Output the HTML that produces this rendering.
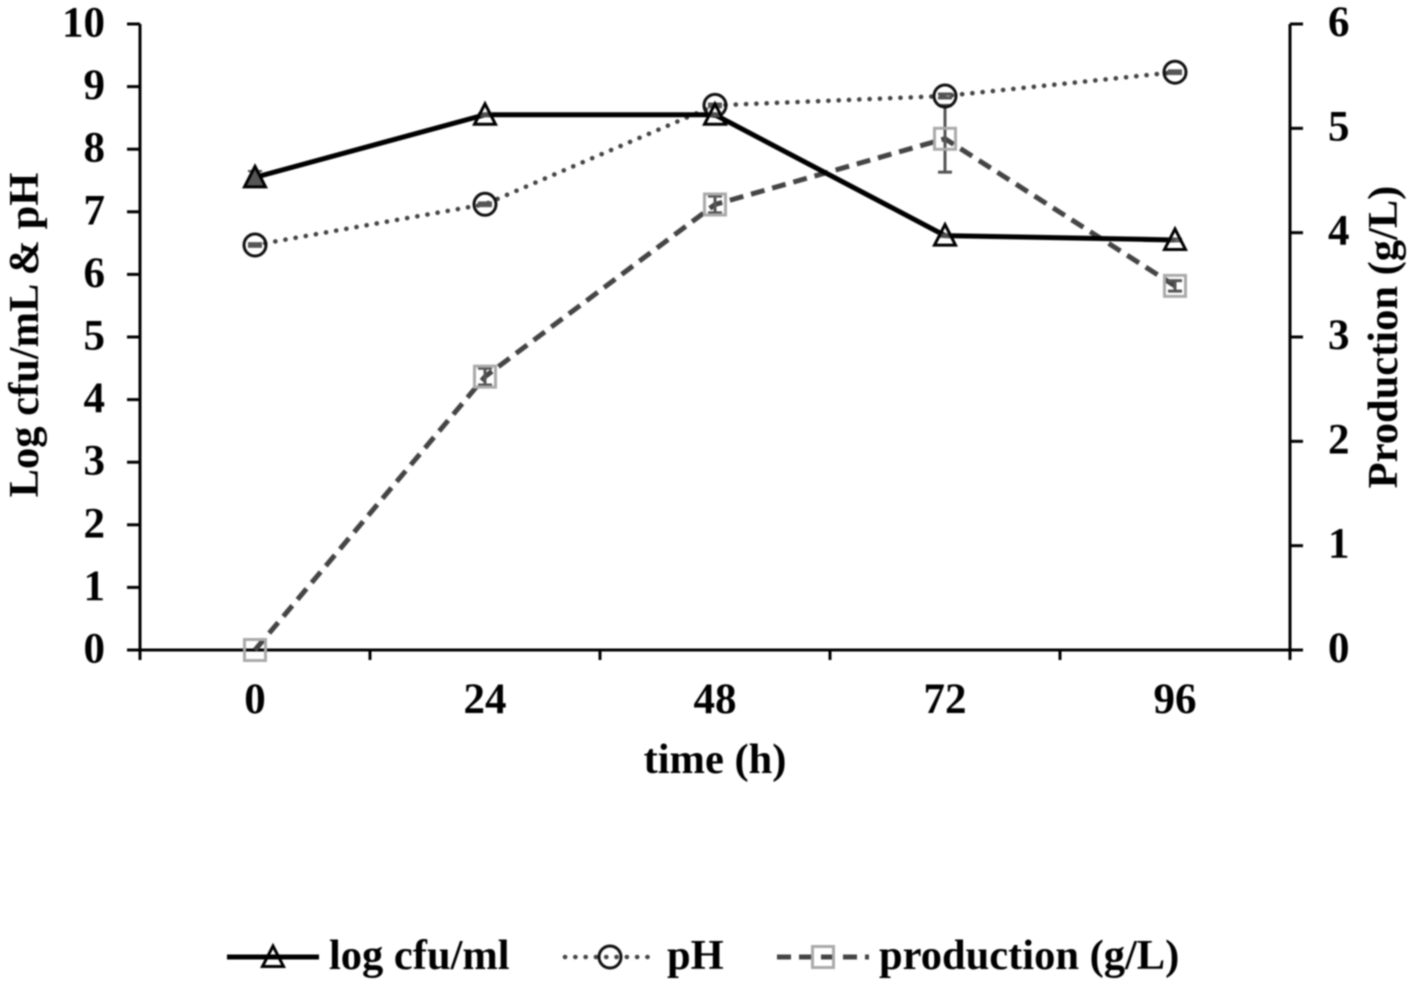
<!DOCTYPE html>
<html>
<head>
<meta charset="utf-8">
<title>Chart</title>
<style>
html,body{margin:0;padding:0;background:#fff;width:1417px;height:987px;overflow:hidden}
svg{display:block;filter:blur(0.7px)}
text{font-family:"Liberation Serif",serif;font-weight:bold;fill:#000}
</style>
</head>
<body>
<svg id="chart" width="1417" height="987" viewBox="0 0 1417 987" xmlns="http://www.w3.org/2000/svg"></svg>
<script>
const categories = ["0", "24", "48", "72", "96"];
const logCfu = [7.55, 8.55, 8.55, 6.62, 6.55];
const logCfuErr = [0.1, 0.02, 0.02, 0.02, 0.02];
const pH = [6.47, 7.12, 8.7, 8.85, 9.23];
const pHErr = [0.02, 0.02, 0.02, 0.03, 0.02];
const production = [0, 2.62, 4.27, 4.9, 3.49];
const productionErr = [0, 0.08, 0.08, 0.32, 0.05];
const leftTicks = [0, 1, 2, 3, 4, 5, 6, 7, 8, 9, 10];
const rightTicks = [0, 1, 2, 3, 4, 5, 6];

const svg = document.getElementById('chart');
const NS = 'http://www.w3.org/2000/svg';
const plotL = 140, plotR = 1290, plotT = 24, plotB = 650;
const xBand = (plotR - plotL) / categories.length;
function xPos(i) { return plotL + xBand * (i + 0.5); }
function yLeft(v) { return plotB - (v / 10) * (plotB - plotT); }
function yRight(v) { return plotB - (v / 6) * (plotB - plotT); }

function mk(tag, attrs, parent) {
  const el = document.createElementNS(NS, tag);
  for (const k in attrs) el.setAttribute(k, attrs[k]);
  (parent || svg).appendChild(el);
  return el;
}
function seg(x1, y1, x2, y2, stroke, w, parent) {
  return mk('line', {x1: x1, y1: y1, x2: x2, y2: y2, stroke: stroke, 'stroke-width': w}, parent);
}
function label(str, x, y, size, anchor, parent) {
  const t = mk('text', {x: x, y: y, 'font-size': size, 'text-anchor': anchor}, parent);
  t.textContent = str;
  return t;
}

/* axes */
const leftAxis = mk('g', {});


seg(plotL, plotT, plotL, plotB + 10, '#000', 3, leftAxis);
leftTicks.forEach(function (v) {
  seg(plotL - 13, yLeft(v), plotL, yLeft(v), '#000', 3, leftAxis);
  const t = label(String(v), 105, yLeft(v) + 12.5, 43, 'end', leftAxis);
  
  
});

const rightAxis = mk('g', {});


seg(plotR, plotT, plotR, plotB + 10, '#000', 3, rightAxis);
rightTicks.forEach(function (v) {
  seg(plotR, yRight(v), plotR + 13, yRight(v), '#000', 3, rightAxis);
  const t = label(String(v), 1328, yRight(v) + 12, 43, 'start', rightAxis);
  
  
});

const xAxis = mk('g', {});


seg(plotL - 13, plotB, plotR + 13, plotB, '#000', 3, xAxis);
for (let i = 1; i < categories.length; i++) {
  seg(plotL + xBand * i, plotB, plotL + xBand * i, plotB + 10, '#000', 3, xAxis);
}
categories.forEach(function (c, i) {
  const t = label(c, xPos(i), 713, 43, 'middle', xAxis);
  
  
});

/* axis titles */
const xTitle = label('time (h)', 715, 773, 42.5, 'middle');


const yTitleL = label('Log cfu/mL & pH', 0, 0, 42.5, 'middle');
yTitleL.setAttribute('transform', 'translate(38,335) rotate(-90)');


const yTitleR = label('Production (g/L)', 0, 0, 42.5, 'middle');
yTitleR.setAttribute('transform', 'translate(1397,337) rotate(-90)');



/* markers */
function triangle(x, y, fill, parent) {
  return mk('path', {d: 'M' + x + ' ' + (y - 11) + 'L' + (x + 10.5) + ' ' + (y + 9.5) + 'H' + (x - 10.5) + 'Z', fill: fill, stroke: '#000', 'stroke-width': 3}, parent);
}
function circle(x, y, parent) {
  return mk('circle', {cx: x, cy: y, r: 11, fill: 'none', stroke: '#111', 'stroke-width': 3}, parent);
}
function square(x, y, parent) {
  return mk('rect', {x: x - 10.5, y: y - 10.5, width: 21, height: 21, fill: 'none', stroke: '#aaa', 'stroke-width': 3}, parent);
}
function errorBar(x, y, dy, color, w, parent) {
  seg(x, y - dy, x, y + dy, color, w, parent);
  seg(x - 7, y - dy, x + 7, y - dy, color, w, parent);
  seg(x - 7, y + dy, x + 7, y + dy, color, w, parent);
}
function points(vals, scale) {
  return vals.map(function (v, i) { return xPos(i) + ',' + scale(v); }).join(' ');
}

/* production series */
const gProd = mk('g', {});


mk('polyline', {points: points(production, yRight), fill: 'none', stroke: '#444', 'stroke-width': 5, 'stroke-dasharray': '14 8'}, gProd);
production.forEach(function (v, i) {
  const y = yRight(v);
  if (productionErr[i] > 0) errorBar(xPos(i), y, yRight(0) - yRight(productionErr[i]), '#555', 3, gProd);
  square(xPos(i), y, gProd);
});

/* pH series */
const gPh = mk('g', {});


mk('polyline', {points: points(pH, yLeft), fill: 'none', stroke: '#444', 'stroke-width': 4.6, 'stroke-dasharray': '0.1 10.2', 'stroke-linecap': 'round'}, gPh);
pH.forEach(function (v, i) {
  const y = yLeft(v);
  errorBar(xPos(i), y, yLeft(0) - yLeft(pHErr[i]), '#555', 3.2, gPh);
  circle(xPos(i), y, gPh);
});

/* log cfu series */
const gCfu = mk('g', {});


mk('polyline', {points: points(logCfu, yLeft), fill: 'none', stroke: '#000', 'stroke-width': 5}, gCfu);
logCfu.forEach(function (v, i) {
  const y = yLeft(v);
  errorBar(xPos(i), y, yLeft(0) - yLeft(logCfuErr[i]), '#555', 2.2, gCfu);
  triangle(xPos(i), y, i === 0 ? '#555' : 'none', gCfu);
});

/* legend */
const legend = mk('g', {});



const lg1 = mk('g', {}, legend);


seg(227, 957, 319, 957, '#000', 5, lg1);
triangle(273, 957, 'none', lg1);
label('log cfu/ml', 329, 969, 42.5, 'start', lg1);

const lg2 = mk('g', {}, legend);


mk('line', {x1: 565, y1: 957, x2: 657, y2: 957, stroke: '#444', 'stroke-width': 4.6, 'stroke-dasharray': '0.1 10.2', 'stroke-linecap': 'round'}, lg2);
mk('circle', {cx: 610, cy: 957, r: 11, fill: 'none', stroke: '#111', 'stroke-width': 3}, lg2);
label('pH', 667, 969, 42.5, 'start', lg2);

const lg3 = mk('g', {}, legend);


mk('line', {x1: 777, y1: 957, x2: 869, y2: 957, stroke: '#444', 'stroke-width': 5, 'stroke-dasharray': '14 8'}, lg3);
square(823, 957, lg3);
label('production (g/L)', 879, 969, 42.5, 'start', lg3);
</script>
</body>
</html>
